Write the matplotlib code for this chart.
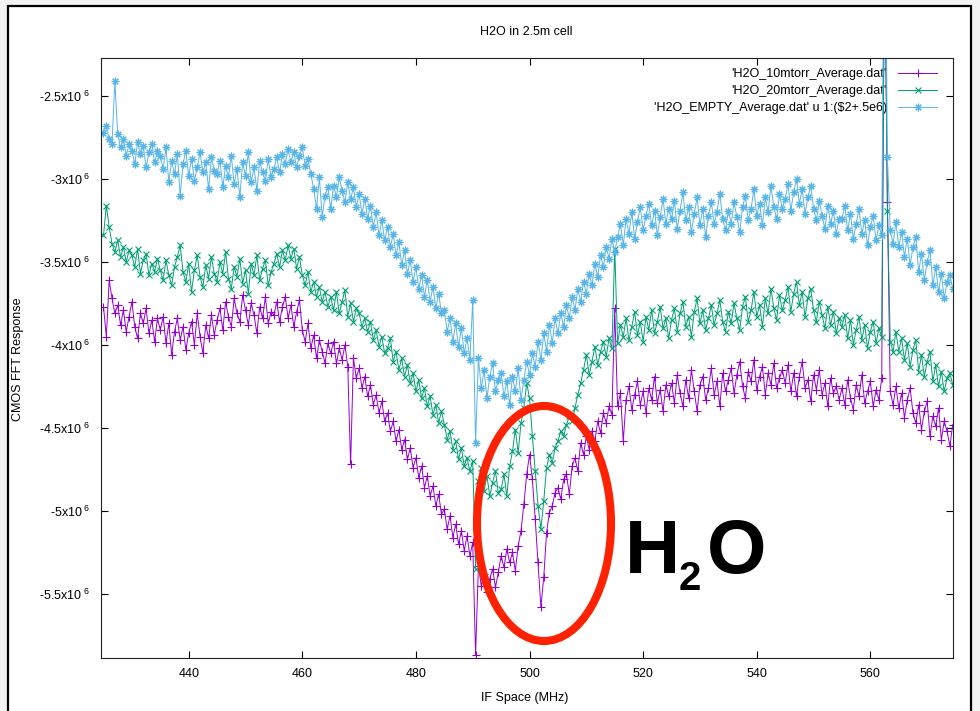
import numpy as np
import matplotlib.pyplot as plt
from matplotlib.patches import Ellipse, Rectangle
from matplotlib.ticker import FuncFormatter, MultipleLocator

plt.rcParams['font.family'] = ['Liberation Sans', 'DejaVu Sans']
plt.rcParams['mathtext.fontset'] = 'custom'
plt.rcParams['mathtext.rm'] = 'Liberation Sans'
plt.rcParams['mathtext.it'] = 'Liberation Sans:italic'
plt.rcParams['mathtext.bf'] = 'Liberation Sans:bold'

# IF frequency bins (MHz), 0.5 MHz spacing
freq = np.arange(425.0, 575.0, 0.5)

# responses in units of 1e4
h2o_10mtorr = [
    -377, -395, -361, -372, -381, -376, -388, -379, -392, -383, -374, -389, -396, -381, -387, -378, -393, -385, -398, -384,
    -391, -383, -399, -387, -406, -392, -384, -397, -389, -403, -393, -386, -400, -381, -395, -405, -388, -396, -382, -394,
    -385, -378, -391, -374, -383, -389, -372, -381, -386, -370, -379, -388, -375, -382, -393, -377, -384, -371, -387, -380,
    -382, -374, -386, -377, -371, -384, -376, -389, -380, -373, -391, -398, -387, -402, -394, -408, -397, -404, -411, -399,
    -405, -398, -411, -402, -409, -400, -413, -472, -408, -420, -414, -426, -419, -431, -424, -436, -430, -441, -434, -446,
    -441, -452, -446, -458, -451, -463, -457, -469, -462, -474, -468, -480, -473, -486, -479, -491, -485, -497, -490, -502,
    -499, -511, -503, -516, -508, -520, -512, -524, -515, -527, -519, -587, -533, -545, -538, -549, -541, -535, -546, -537,
    -527, -534, -523, -531, -525, -536, -521, -512, -496, -478, -466, -481, -505, -531, -558, -540, -513, -501, -497, -489,
    -486, -493, -481, -478, -490, -473, -468, -476, -459, -466, -455, -463, -452, -458, -446, -453, -441, -447, -437, -442,
    -378, -437, -429, -458, -433, -425, -439, -430, -422, -436, -428, -441, -426, -433, -419, -435, -427, -440, -424, -431,
    -423, -435, -418, -429, -437, -421, -432, -415, -428, -440, -424, -419, -433, -426, -414, -430, -422, -437, -417, -428,
    -421, -414, -429, -418, -410, -425, -432, -416, -422, -409, -427, -419, -413, -430, -417, -424, -411, -426, -420, -415,
    -423, -412, -428, -417, -431, -419, -410, -426, -421, -434, -418, -427, -415, -430, -423, -437, -420, -429, -425, -433,
    -426, -436, -421, -432, -439, -424, -431, -418, -435, -428, -422, -437, -427, -433, -420, -150, -314, -428, -436, -425,
    -438, -429, -444, -433, -426, -441, -447, -436, -451, -440, -434, -455, -443, -449, -438, -457, -446, -452, -461, -448,
]

h2o_20mtorr = [
    -334, -316, -329, -339, -344, -337, -347, -341, -350, -343, -346, -353, -342, -357, -349, -345, -358, -351, -356, -348,
    -355, -361, -349, -358, -364, -353, -347, -340, -356, -362, -351, -368, -355, -346, -359, -365, -352, -360, -347, -357,
    -362, -350, -357, -344, -360, -366, -353, -359, -348, -363, -355, -369, -351, -358, -346, -361, -354, -349, -364, -356,
    -351, -345, -353, -343, -349, -340, -348, -342, -354, -347, -358, -364, -356, -368, -362, -371, -365, -374, -368, -377,
    -371, -379, -368, -381, -374, -367, -383, -375, -386, -378, -381, -389, -384, -392, -386, -397, -391, -401, -395, -405,
    -402, -396, -410, -404, -415, -408, -419, -412, -423, -417, -428, -421, -432, -426, -437, -431, -442, -436, -447, -440,
    -448, -457, -452, -463, -458, -469, -462, -473, -468, -476, -470, -535, -482, -474, -488, -479, -491, -483, -476, -489,
    -487, -478, -491, -473, -464, -451, -465, -447, -438, -423, -432, -455, -476, -497, -511, -494, -474, -466, -471, -462,
    -458, -452, -455, -448, -443, -446, -438, -430, -423, -415, -406, -418, -410, -401, -412, -404, -398, -407, -396, -402,
    -342, -399, -388, -395, -384, -397, -389, -380, -394, -386, -398, -383, -391, -379, -393, -386, -377, -390, -384, -396,
    -385, -378, -392, -381, -374, -389, -383, -395, -380, -372, -387, -379, -391, -384, -376, -388, -381, -373, -386, -392,
    -380, -387, -375, -384, -391, -377, -371, -386, -379, -368, -383, -376, -389, -372, -381, -366, -378, -385, -370, -379,
    -373, -365, -380, -369, -362, -376, -368, -383, -372, -366, -379, -386, -374, -382, -390, -377, -388, -380, -393, -384,
    -389, -382, -396, -385, -400, -391, -383, -397, -388, -402, -392, -386, -399, -390, -395, -150, -319, -398, -404, -392,
    -404, -396, -409, -399, -413, -403, -397, -416, -406, -419, -410, -404, -422, -412, -425, -416, -428, -420, -417, -424,
]

# empty cell, already offset by +0.5e6
h2o_empty = [
    -272, -268, -276, -279, -241, -273, -281, -276, -286, -279, -283, -291, -278, -285, -280, -293, -284, -279, -290, -283,
    -286, -294, -281, -302, -289, -297, -285, -310, -291, -283, -298, -288, -301, -293, -284, -296, -290, -306, -287, -295,
    -297, -289, -305, -292, -299, -286, -303, -294, -311, -290, -298, -284, -302, -293, -307, -289, -296, -301, -288, -299,
    -294, -287, -296, -285, -291, -282, -290, -284, -293, -286, -281, -292, -288, -297, -306, -318, -299, -323, -310, -305,
    -318, -304, -311, -299, -307, -314, -302, -312, -305, -317, -309, -321, -312, -324, -316, -329, -320, -334, -325, -337,
    -329, -341, -333, -346, -338, -352, -343, -357, -349, -362, -353, -366, -358, -371, -361, -374, -365, -378, -369, -381,
    -379, -392, -384, -398, -387, -401, -390, -405, -396, -409, -373, -459, -408, -426, -415, -432, -419, -411, -428, -421,
    -417, -431, -422, -436, -419, -428, -414, -433, -421, -410, -418, -405, -413, -398, -409, -393, -404, -388, -399, -384,
    -393, -381, -389, -376, -384, -371, -379, -366, -374, -362, -369, -357, -364, -351, -359, -346, -353, -341, -348, -336,
    -344, -335, -327, -340, -324, -333, -320, -336, -326, -317, -331, -322, -315, -328, -319, -334, -323, -312, -327, -318,
    -324, -313, -330, -319, -308, -325, -317, -332, -321, -311, -328, -318, -335, -322, -314, -327, -320, -309, -324, -331,
    -319, -327, -314, -323, -332, -317, -310, -325, -318, -306, -322, -315, -328, -311, -320, -304, -317, -324, -309, -318,
    -312, -303, -319, -308, -300, -315, -306, -321, -311, -304, -318, -325, -313, -322, -330, -316, -327, -319, -333, -324,
    -324, -316, -331, -321, -336, -327, -318, -333, -325, -340, -329, -322, -337, -328, -334, -100, -287, -331, -339, -326,
    -341, -332, -347, -336, -352, -341, -335, -356, -345, -361, -350, -343, -364, -353, -368, -357, -372, -362, -358, -366,
]

series = [
    (h2o_10mtorr, "'H2O_10mtorr_Average.dat'", '#9400d3', '+', 5.5),
    (h2o_20mtorr, "'H2O_20mtorr_Average.dat'", '#009e73', 'x', 4.5),
    (h2o_empty, r"'H2O_EMPTY_Average.dat' u 1:(\$2+.5e6)", '#56b4e9', (8, 2, 0), 5.5),
]

W, H = 980, 711
fig = plt.figure(figsize=(W / 100, H / 100), dpi=100, facecolor='#f3f3f3')

# white page with a black border
fig.add_artist(Rectangle((8 / W, -0.05), (971 - 8) / W, 1 - 6 / H + 0.05,
                         transform=fig.transFigure, facecolor='white',
                         edgecolor='black', linewidth=1.6, zorder=-1))

ax = fig.add_axes([101 / W, 1 - 658 / H, 852.3 / W, 600 / H])
for vals, label, color, marker, ms in series:
    ax.plot(freq, np.array(vals) * 1e4, color=color, linewidth=0.7,
            marker=marker, markersize=ms, markeredgewidth=0.8, label=label)

ax.set_xlim(424.56, 574.6)
ax.set_ylim(-5.886e6, -2.271e6)
ax.xaxis.set_major_locator(MultipleLocator(20))
ax.yaxis.set_major_locator(MultipleLocator(0.5e6))


def sci_label(v, pos):
    return '%gx10$^{\\ 6}$' % (v / 1e6)


ax.yaxis.set_major_formatter(FuncFormatter(sci_label))
ax.tick_params(direction='in', length=5, width=0.8, top=True, right=True,
               labelsize=9, colors='black')
ax.tick_params(axis='x', pad=7)
ax.tick_params(axis='y', pad=8)
for sp in ax.spines.values():
    sp.set_linewidth(0.8)
    sp.set_color('#222222')

leg = ax.legend(loc='upper right', bbox_to_anchor=(937 / W, 1 - 68 / H),
                bbox_transform=fig.transFigure, frameon=False, fontsize=9,
                markerfirst=False, numpoints=1, handlelength=3.1,
                handletextpad=0.9, labelspacing=0.4, borderpad=0,
                borderaxespad=0)
leg.set_zorder(1)

fig.text(526 / W, 1 - 31.7 / H, 'H2O in 2.5m cell', ha='center', va='center', fontsize=9)
fig.text(525 / W, 1 - 698 / H, 'IF Space (MHz)', ha='center', va='center', fontsize=9)
fig.text(18 / W, 1 - 359 / H, 'CMOS FFT Response', ha='center', va='center',
         rotation=90, fontsize=9)

# highlighted absorption feature
fig.add_artist(Ellipse((544 / W, 1 - 523.5 / H), 134 / W, 235 / H,
                       transform=fig.transFigure, fill=False,
                       edgecolor='#ff2200', linewidth=5.8, zorder=3))
big = ['Liberation Sans Narrow', 'Liberation Sans']
fig.text(625 / W, 1 - 573 / H, 'H', fontsize=55, fontweight='bold', family=big,
         ha='left', va='baseline')
fig.text(679 / W, 1 - 590 / H, '2', fontsize=29, fontweight='bold', family=big,
         ha='left', va='baseline')
fig.text(707 / W, 1 - 573 / H, 'O', fontsize=55, fontweight='bold', family=big,
         ha='left', va='baseline')

fig.savefig('out.png', dpi=100, facecolor=fig.get_facecolor())
